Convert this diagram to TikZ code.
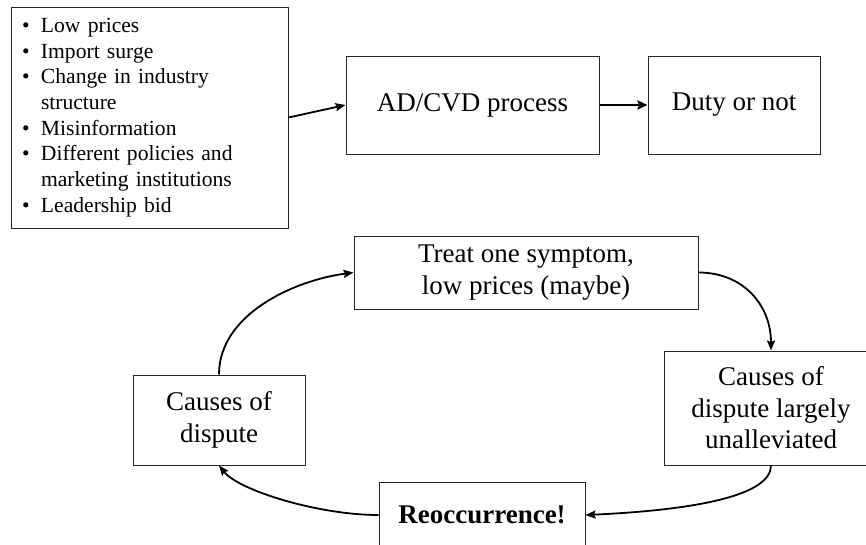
\documentclass[tikz,border=0pt]{standalone}
\usepackage{fontspec}
\setmainfont{Liberation Serif}
\usetikzlibrary{arrows.meta}
\newcommand{\bulitem}{\makebox[19pt][l]{\textbullet}}
\begin{document}
\begin{tikzpicture}[x=1pt,y=-1pt,
  box/.style={draw=black!85, line width=1pt, inner sep=0pt, align=center,
    font=\fontsize{27}{31.5}\selectfont},
  arr/.style={line width=1.8pt, -{Stealth[length=10pt,width=8pt,inset=1.5pt]}},
  thickarr/.style={line width=2.8pt, -{Stealth[length=10pt,width=9pt,inset=1.5pt]}},
]
\useasboundingbox[fill=white] (0,0) rectangle (866,544);

\node[box, minimum width=277pt, minimum height=221pt, text width=255pt, align=left,
  font=\fontsize{21.6}{25.7}\selectfont] (list) at (149.5,117.5)
  {\bulitem Low prices\\
   \bulitem Import surge\\
   \bulitem Change in industry\\
   \hspace*{19pt}structure\\
   \bulitem Misinformation\\
   \bulitem Different policies and\\
   \hspace*{19pt}marketing institutions\\
   \bulitem Leadership bid};

\node[box, minimum width=253pt, minimum height=98pt] (ad) at (472.5,105) {AD/CVD process};
\node[box, minimum width=172pt, minimum height=98pt] (duty) at (734,105) {Duty or not};

\node[box, minimum width=344pt, minimum height=73pt] (treat) at (526,272.5)
  {Treat one symptom,\\ low prices (maybe)};
\node[box, minimum width=214pt, minimum height=114pt] (rb) at (771,408)
  {Causes of\\ dispute largely\\ unalleviated};
\node[box, minimum width=172pt, minimum height=90pt] (cd) at (219,420)
  {Causes of\\ dispute};
\node[box, minimum width=206pt, minimum height=66pt, font=\fontsize{27}{31.5}\selectfont\bfseries] (reo) at (482,515)
  {Reoccurrence!};

\draw[arr] (list.east) -- (ad.west);
\draw[thickarr] (ad.east) -- (duty.west);

\draw[arr] (cd.north) .. controls +(0,-60) and +(-60,8) .. (treat.west);
\draw[arr] (treat.east) .. controls +(45,0) and +(0,-45) .. (rb.north);
\draw[arr] (rb.south) .. controls +(0,30) and +(110,-5) .. (reo.east);
\draw[arr] (reo.west) .. controls +(-60,0) and +(20,25) .. (cd.south);
\end{tikzpicture}
\end{document}
